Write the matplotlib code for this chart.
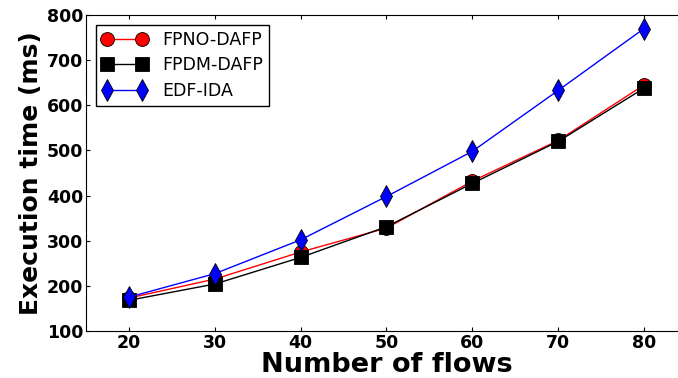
import matplotlib
matplotlib.use("Agg")
import matplotlib.pyplot as plt

flows = [20, 30, 40, 50, 60, 70, 80]
fpno_dafp = [173, 215, 275, 328, 432, 522, 645]
fpdm_dafp = [168, 204, 263, 331, 427, 520, 638]
edf_ida = [175, 227, 302, 398, 498, 633, 770]

fig = plt.figure(figsize=(6.78, 3.78), dpi=100)
# axes run past the right edge of the figure, like the original crop
ax = fig.add_axes([86 / 678, 47 / 378, 601 / 678, 316 / 378])

ax.plot(flows, fpno_dafp, 'r-', lw=1.0, marker='o', markersize=10, markeredgecolor='k',
        markeredgewidth=0.6, label='FPNO-DAFP')
ax.plot(flows, fpdm_dafp, 'k-', lw=1.0, marker='s', markersize=10, markeredgecolor='k',
        markeredgewidth=0.6, label='FPDM-DAFP')
ax.plot(flows, edf_ida, 'b-', lw=1.0, marker='d', markersize=11, markeredgecolor='k',
        markeredgewidth=0.6, label='EDF-IDA')

ax.set_xlim(15, 85)
ax.set_ylim(100, 800)
ax.set_xticks(flows)
ax.set_yticks(range(100, 801, 100))
ax.tick_params(direction='in', top=True, right=True, length=3, pad=2)
for lab in ax.get_xticklabels() + ax.get_yticklabels():
    lab.set_fontweight('bold')
    lab.set_fontsize(12.5)

ax.set_xlabel('Number of flows', fontsize=19.5, fontweight='bold', labelpad=0)
ax.set_ylabel('Execution time (ms)', fontsize=18, fontweight='bold', labelpad=3)

leg = ax.legend(loc='upper left', numpoints=2, fontsize=12.5, fancybox=False,
                edgecolor='k', framealpha=1, borderaxespad=0.55,
                handlelength=2.6, labelspacing=0.45, handletextpad=0.9,
                borderpad=0.35)
leg.get_frame().set_linewidth(1.0)

fig.savefig('out.png', dpi=100)
